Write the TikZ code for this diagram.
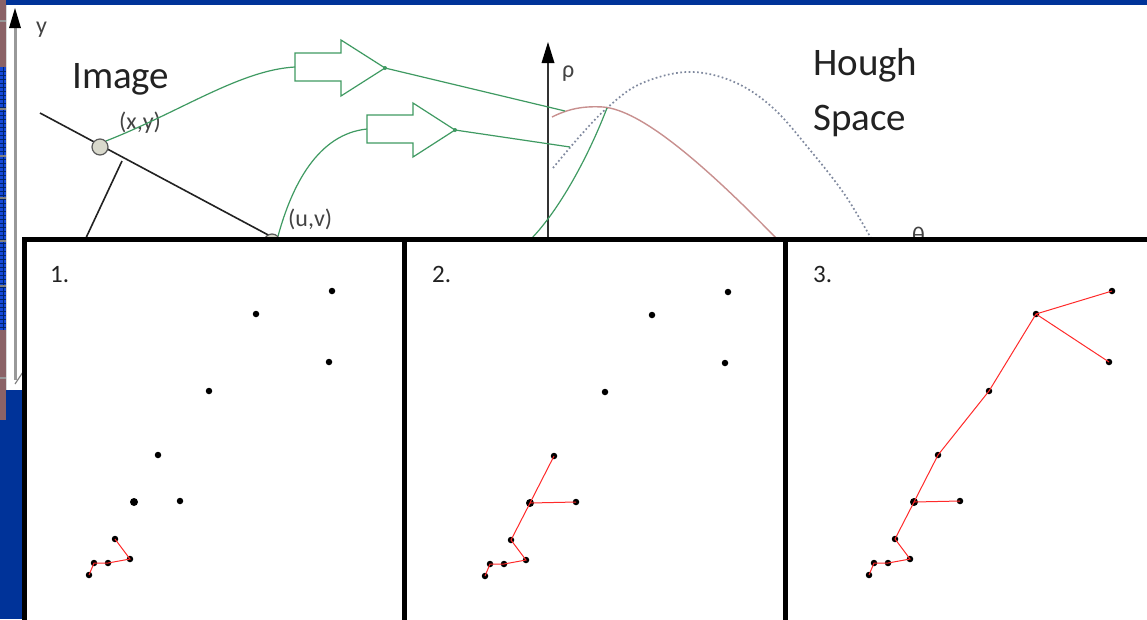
\documentclass[tikz,border=0pt]{standalone}
\usepackage{fontspec}
\setmainfont{Carlito}
\definecolor{dblue}{HTML}{003399}
\definecolor{mauve}{HTML}{8B6266}
\definecolor{stripblue}{HTML}{1448D8}
\definecolor{hgreen}{HTML}{3F9A62}
\definecolor{hrose}{HTML}{C8908F}
\definecolor{hdot}{HTML}{7F889E}
\definecolor{txt}{HTML}{222222}
\definecolor{edgered}{HTML}{FF2A2A}
\definecolor{cfill}{HTML}{D9D9CC}
\tikzset{
  big/.style={font=\fontsize{39}{46}\selectfont, text=txt, inner sep=0, anchor=base west},
  small/.style={font=\fontsize{24}{28}\selectfont, text=txt!85, inner sep=0, anchor=base west},
  num/.style={font=\fontsize{25}{30}\selectfont, text=txt, inner sep=0, anchor=base west},
  gline/.style={draw=hgreen, line width=1.2pt},
  garrow/.style={draw=hgreen, line width=1.2pt, line join=miter},
  panel/.style={draw=black, line width=5pt, fill=white},
  dotpt/.style={circle, fill=black, inner sep=0, minimum size=6.5pt},
  bigpt/.style={circle, fill=black, inner sep=0, minimum size=8pt},
  redge/.style={draw=edgered, line width=1pt},
  ptcircle/.style={draw=black!65, fill=cfill, line width=1.2pt}
}
\newcommand\mkpts[3]{%
  \node[dotpt] (#1p1) at ({332+#2},{291+#3}) {};
  \node[dotpt] (#1p2) at ({256+#2},{314+#3}) {};
  \node[dotpt] (#1p3) at ({329+#2},{362+#3}) {};
  \node[dotpt] (#1p4) at ({209+#2},{391+#3}) {};
  \node[dotpt] (#1p5) at ({158+#2},{455+#3}) {};
  \node[bigpt] (#1p6) at ({134+#2},{502+#3}) {};
  \node[dotpt] (#1p7) at ({180+#2},{501+#3}) {};
  \node[dotpt] (#1p8) at ({115+#2},{539+#3}) {};
  \node[dotpt] (#1p9) at ({130+#2},{559+#3}) {};
  \node[dotpt] (#1p10) at ({108+#2},{563+#3}) {};
  \node[dotpt] (#1p11) at ({94+#2},{563+#3}) {};
  \node[dotpt] (#1p12) at ({89+#2},{575+#3}) {};
}
\begin{document}
\begin{tikzpicture}[x=1pt,y=-1pt]
\useasboundingbox (0,0) rectangle (1147,619);
\clip (0,0) rectangle (1147,619);
% background
\fill[dblue] (0,0) rectangle (1147,619);
\fill[mauve] (0,0) rectangle (6,420);
\fill[stripblue] (0,67) rectangle (6,330);
\foreach \yy in {71,75,...,327} \draw[dblue!70!black, line width=0.6pt] (0,\yy) -- (6,\yy);
\draw[dblue!70!black, line width=0.6pt] (3,67) -- (3,330);
\foreach \yy in {108,155,197,240,285} \fill[gray] (0,\yy) rectangle (6,{\yy+2});
\fill[gray!80] (0,20) rectangle (6,21.5);
\fill[gray!80] (0,377) rectangle (6,378.5);
\fill[gray!30] (6,5) rectangle (7,390);
\fill[white] (7,5) rectangle (1147,390);
% left axis
\draw[gray!80, line width=3pt] (15,380) -- (15,25);
\fill[black] (9,28) -- (21,28) -- (15,8) -- cycle;
\draw[gray, line width=1.2pt] (15,384) -- (25,369);
\node[small] (ylab) at (36,33) {y};
% titles
\node[big] (img) at (72,88) {Image};
\node[big] (hough) at (813,75) {Hough};
\node[big] (space) at (813,130) {Space};
\node[small] (xy) at (119,129) {(x,y)};
\node[small] (uv) at (288,226) {(u,v)};
\node[small] (rho) at (562,77) {ρ};
\node[small] (theta) at (912,243) {θ};
% image line and perpendicular
\coordinate (la) at (40,113);
\coordinate (lb) at (272,237);
\coordinate (pa) at (122,161);
\coordinate (pb) at (85,240);
\draw[txt, line width=1.6pt] (la) -- (lb);
\draw[txt, line width=1.6pt] (pa) -- (pb);
\node[ptcircle, circle, minimum size=16pt, inner sep=0] (cxy) at (100,147) {};
\node[ptcircle, circle, minimum size=16pt, inner sep=0] (cuv) at (272,242) {};
% hough space axis
\coordinate (rb) at (548,240);
\coordinate (rt) at (548,60);
\draw[black!80, line width=2.5pt] (rb) -- (rt);
\fill[black] (541.5,63) -- (554.5,63) -- (548,42) -- cycle;
% sinusoids
\draw[hdot, line width=1.7pt, dash pattern=on 1.7pt off 2.5pt]
  plot[smooth, tension=0.6] coordinates {(553,168) (580,136) (607,108) (640,84) (687,72) (732,81) (772,107) (810,150) (845,195) (872,240)};
\draw[hrose, line width=1.4pt]
  (552,117) .. controls (570,108) and (585,106) .. (603,107)
  .. controls (640,110) and (700,160) .. (778,240);
\draw[hgreen, line width=1.2pt]
  (607,108) .. controls (585,165) and (555,215) .. (530,240);
% green transforms
\coordinate (t1) at (385,68);
\coordinate (e1) at (565,111);
\coordinate (t2) at (455,130);
\coordinate (e2) at (570,147);
\draw[gline] (cxy.north east) .. controls (180,112) and (240,70) .. (295,67);
\draw[garrow] (295,53) -- (341,53) -- (341,40) -- (t1) -- (341,96) -- (341,81) -- (295,81) -- cycle;
\draw[gline] (t1) -- (e1);
\fill[hgreen] (t1) circle (2pt);
\draw[gline] (cuv.north east) .. controls (292,185) and (318,134) .. (367,129);
\draw[garrow] (367,115) -- (413,115) -- (413,103) -- (t2) -- (413,157) -- (413,143) -- (367,143) -- cycle;
\draw[gline] (t2) -- (e2);
\fill[hgreen] (t2) circle (2pt);
% panels
\draw[panel] (24.5,239.5) rectangle (404.5,630);
\draw[panel] (404.5,239.5) rectangle (785,630);
\draw[panel] (785,239.5) rectangle (1155,630);
\node[num] (n1) at (50,282) {1.};
\node[num] (n2) at (432,282) {2.};
\node[num] (n3) at (813,282) {3.};
% points
\mkpts{a}{0}{0}
\mkpts{b}{396}{1}
\mkpts{c}{780}{0}
% edges panel 1
\draw[redge] (ap12.center) -- (ap11.center) -- (ap10.center) -- (ap9.center) -- (ap8.center);
% edges panel 2
\draw[redge] (bp12.center) -- (bp11.center) -- (bp10.center) -- (bp9.center) -- (bp8.center) -- (bp6.center) -- (bp5.center);
\draw[redge] (bp6.center) -- (bp7.center);
% edges panel 3
\draw[redge] (cp12.center) -- (cp11.center) -- (cp10.center) -- (cp9.center) -- (cp8.center) -- (cp6.center) -- (cp5.center) -- (cp4.center) -- (cp2.center) -- (cp1.center);
\draw[redge] (cp6.center) -- (cp7.center);
\draw[redge] (cp2.center) -- (cp3.center);
\end{tikzpicture}
\end{document}
